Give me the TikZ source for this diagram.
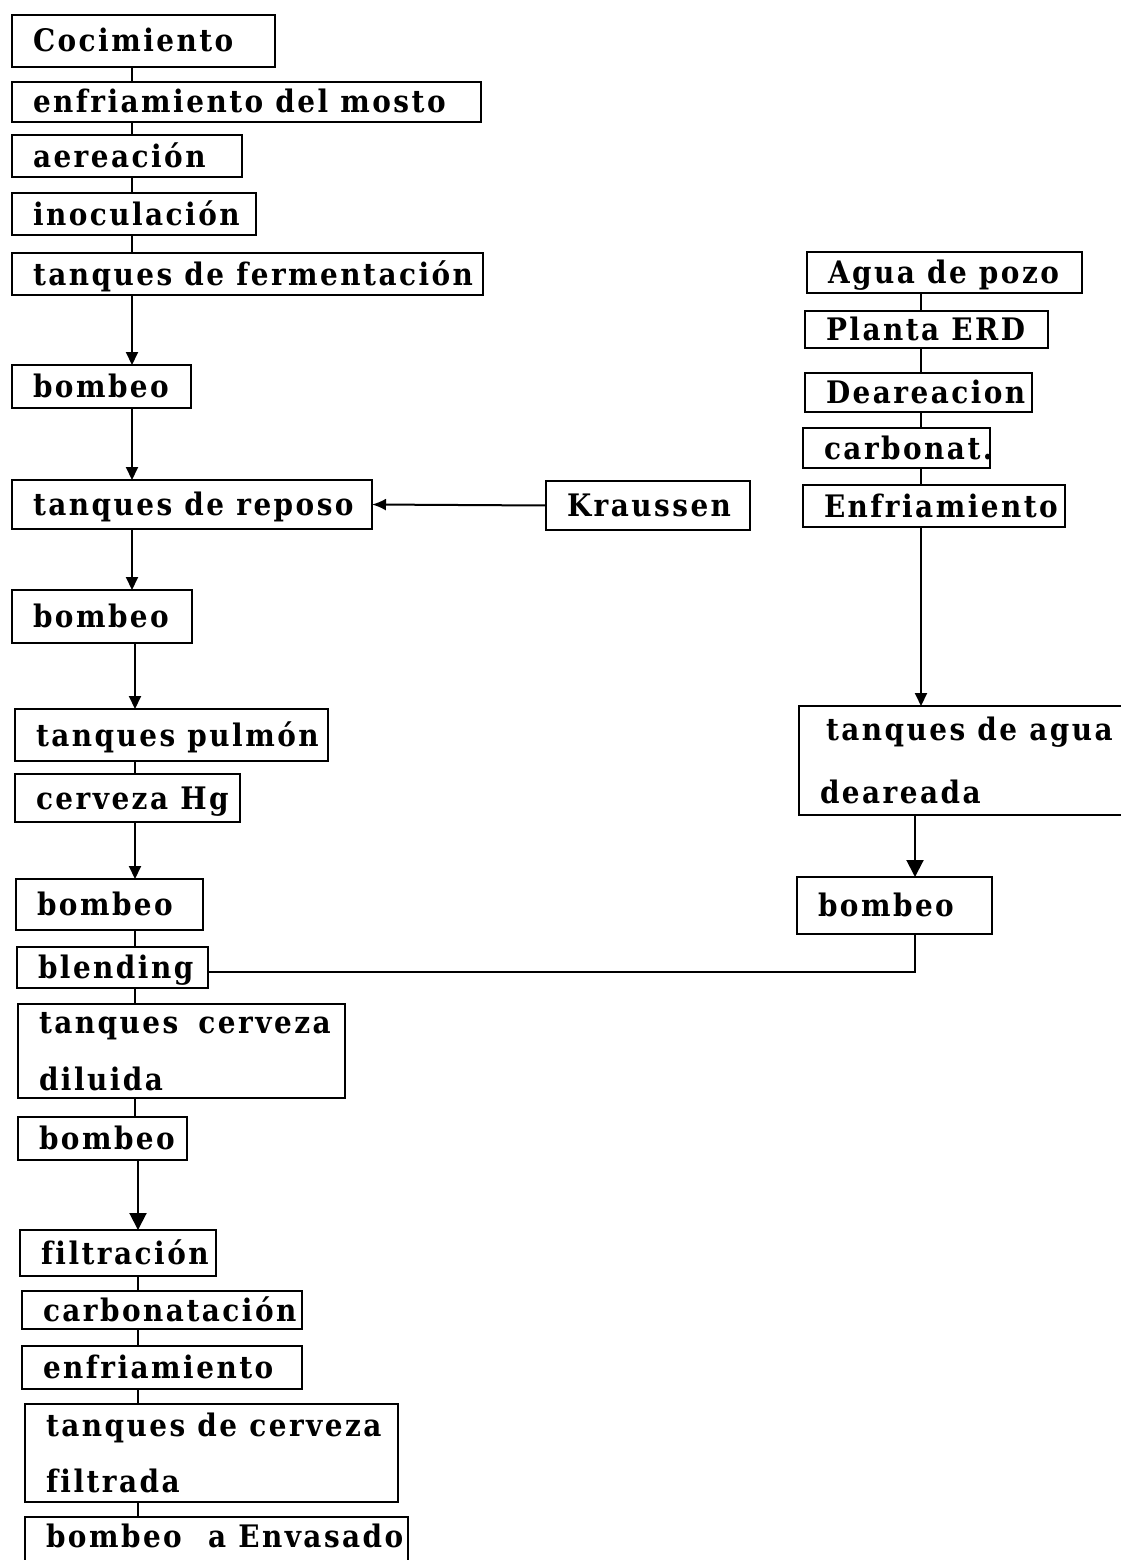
\documentclass[tikz,border=0pt]{standalone}
\usepackage{fontspec}
\setmainfont{DejaVu Serif Condensed}[LetterSpace=8, Ligatures=NoCommon]
\usetikzlibrary{arrows.meta}

\tikzset{
  pbox/.style={draw, line width=2.2pt, inner sep=0pt, outer sep=0pt,
    anchor=north west, text height=22pt, text depth=0pt,
    font=\fontsize{31}{36}\selectfont\bfseries},
  flow/.style={line width=2pt},
  arr/.style={flow, -{Triangle[length=13pt,width=12pt]}},
  barr/.style={flow, -{Triangle[length=17pt,width=17pt]}},
  karr/.style={flow, -{Latex[length=14pt,width=12pt]}},
}

% one-line process box: [options]{name}{x1}{y1}{x2}{y2}{label}
\newcommand\procstep[7][]{%
  \node[pbox, minimum width={#5-#3}, minimum height={#6-#4}, #1] (#2) at (#3,#4)
    {\makebox[\dimexpr#5pt-#3pt\relax][l]{\hspace*{21pt}#7}};}

% two-line process box: [options]{name}{x1}{y1}{x2}{y2}{line 1}{line 2}{line skip}
\newcommand\proctwo[9][]{%
  \node[pbox, minimum width={#5-#3}, minimum height={#6-#4}, text depth=#9pt, #1] (#2) at (#3,#4)
    {\parbox[t]{\dimexpr#5pt-#3pt\relax}{\baselineskip=#9pt\hspace*{21pt}#7\\\hspace*{21pt}#8}};}

\begin{document}
\begin{tikzpicture}[x=1pt,y=-1pt]
  \fill[white] (0,0) rectangle (1121,1560);
  \useasboundingbox (0,0) rectangle (1121,1560);

  % beer line
  \procstep{coc}{12}{15}{275}{67}{Cocimiento}
  \procstep{enf}{12}{82}{481}{122}{enfriamiento del mosto}
  \procstep{aer}{12}{135}{242}{177}{aereación}
  \procstep{ino}{12}{193}{256}{235}{inoculación}
  \procstep{fer}{12}{253}{483}{295}{tanques de fermentación}
  \procstep{bomA}{12}{365}{191}{408}{bombeo}
  \procstep{rep}{12}{480}{372}{529}{tanques de reposo}
  \procstep{kr}{546}{481}{750}{530}{Kraussen}
  \procstep{bomB}{12}{590}{192}{643}{bombeo}
  \procstep{pul}{15}{709}{328}{761}{tanques pulmón}
  \procstep{hg}{15}{774}{240}{822}{cerveza Hg}
  \procstep{bomC}{16}{879}{203}{930}{bombeo}
  \procstep{ble}{17}{947}{208}{988}{blending}
  \proctwo{dil}{18}{1004}{345}{1098}{tanques\hspace{8pt} cerveza}{diluida}{57}
  \procstep{bomD}{18}{1117}{187}{1160}{bombeo}
  \procstep{fil}{20}{1230}{216}{1276}{filtración}
  \procstep{car}{22}{1291}{302}{1329}{carbonatación}
  \procstep{enfB}{22}{1346}{302}{1389}{enfriamiento}
  \proctwo{tcf}{25}{1404}{398}{1502}{tanques de cerveza}{filtrada}{56}
  \procstep[text depth=45pt]{env}{25}{1517}{408}{1600}{bombeo\hspace{14pt} a Envasado}

  % water line
  \procstep{agua}{807}{252}{1082}{293}{Agua de pozo}
  \procstep{erd}{805}{311}{1048}{348}{Planta ERD}
  \procstep{dea}{805}{373}{1032}{412}{Deareacion}
  \procstep{carb}{803}{428}{990}{468}{carbonat.}
  \procstep{enfr}{803}{485}{1065}{527}{Enfriamiento}
  \proctwo{tad}{799}{706}{1140}{815}{\hspace{6pt}tanques de agua}{deareada}{63}
  \procstep{bomR}{797}{877}{992}{934}{bombeo}

  % vertical spines of the two lines
  \coordinate (sa) at (132,0);
  \coordinate (sb) at (135,0);
  \coordinate (sc) at (138,0);
  \coordinate (ra) at (921,0);
  \coordinate (rb) at (915,0);

  % beer line connectors
  \draw[flow] (coc.south -| sa) -- (enf.north -| sa);
  \draw[flow] (enf.south -| sa) -- (aer.north -| sa);
  \draw[flow] (aer.south -| sa) -- (ino.north -| sa);
  \draw[flow] (ino.south -| sa) -- (fer.north -| sa);
  \draw[arr] (fer.south -| sa) -- (bomA.north -| sa);
  \draw[arr] (bomA.south -| sa) -- (rep.north -| sa);
  \draw[arr] (rep.south -| sa) -- (bomB.north -| sa);
  \draw[arr] (bomB.south -| sb) -- (pul.north -| sb);
  \draw[flow] (pul.south -| sb) -- (hg.north -| sb);
  \draw[arr] (hg.south -| sb) -- (bomC.north -| sb);
  \draw[flow] (bomC.south -| sb) -- (ble.north -| sb);
  \draw[flow] (ble.south -| sb) -- (dil.north -| sb);
  \draw[flow] (dil.south -| sb) -- (bomD.north -| sb);
  \draw[barr] (bomD.south -| sc) -- (fil.north -| sc);
  \draw[flow] (fil.south -| sc) -- (car.north -| sc);
  \draw[flow] (car.south -| sc) -- (enfB.north -| sc);
  \draw[flow] (enfB.south -| sc) -- (tcf.north -| sc);
  \draw[flow] (tcf.south -| sc) -- (env.north -| sc);
  \draw[karr] (kr.west) -- (rep.east);

  % water line connectors
  \draw[flow] (agua.south -| ra) -- (erd.north -| ra);
  \draw[flow] (erd.south -| ra) -- (dea.north -| ra);
  \draw[flow] (dea.south -| ra) -- (carb.north -| ra);
  \draw[flow] (carb.south -| ra) -- (enfr.north -| ra);
  \draw[arr] (enfr.south -| ra) -- (tad.north -| ra);
  \draw[barr] (tad.south -| rb) -- (bomR.north -| rb);
  \draw[flow] (bomR.south -| rb) |- ([yshift=-4pt]ble.east);
\end{tikzpicture}
\end{document}
